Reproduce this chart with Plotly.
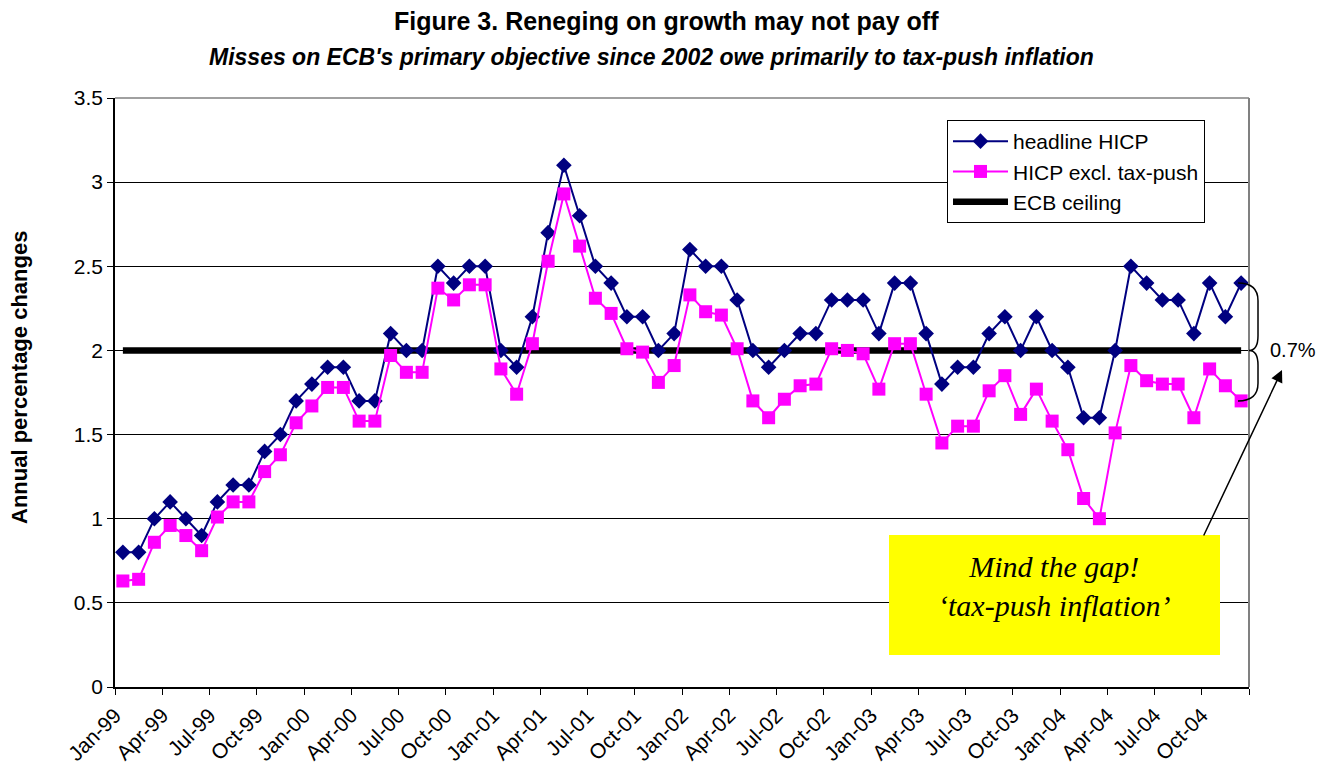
import plotly.graph_objects as go

# ---- data (annual % changes, monthly Jan-99 .. Dec-04) ----
headline_hicp = [
    0.8, 0.8, 1.0, 1.1, 1.0, 0.9, 1.1, 1.2, 1.2, 1.4, 1.5, 1.7,
    1.8, 1.9, 1.9, 1.7, 1.7, 2.1, 2.0, 2.0, 2.5, 2.4, 2.5, 2.5,
    2.0, 1.9, 2.2, 2.7, 3.1, 2.8, 2.5, 2.4, 2.2, 2.2, 2.0, 2.1,
    2.6, 2.5, 2.5, 2.3, 2.0, 1.9, 2.0, 2.1, 2.1, 2.3, 2.3, 2.3,
    2.1, 2.4, 2.4, 2.1, 1.8, 1.9, 1.9, 2.1, 2.2, 2.0, 2.2, 2.0,
    1.9, 1.6, 1.6, 2.0, 2.5, 2.4, 2.3, 2.3, 2.1, 2.4, 2.2, 2.4,
]
hicp_excl_tax_push = [
    0.63, 0.64, 0.86, 0.96, 0.90, 0.81, 1.01, 1.10, 1.10, 1.28, 1.38, 1.57,
    1.67, 1.78, 1.78, 1.58, 1.58, 1.97, 1.87, 1.87, 2.37, 2.30, 2.39, 2.39,
    1.89, 1.74, 2.04, 2.53, 2.93, 2.62, 2.31, 2.22, 2.01, 1.99, 1.81, 1.91,
    2.33, 2.23, 2.21, 2.01, 1.70, 1.60, 1.71, 1.79, 1.80, 2.01, 2.00, 1.98,
    1.77, 2.04, 2.04, 1.74, 1.45, 1.55, 1.55, 1.76, 1.85, 1.62, 1.77, 1.58,
    1.41, 1.12, 1.00, 1.51, 1.91, 1.82, 1.80, 1.80, 1.60, 1.89, 1.79, 1.70,
]
ecb_ceiling = [2.0] * 72
tick_labels = [
    "Jan-99", "Apr-99", "Jul-99", "Oct-99", "Jan-00", "Apr-00", "Jul-00", "Oct-00",
    "Jan-01", "Apr-01", "Jul-01", "Oct-01", "Jan-02", "Apr-02", "Jul-02", "Oct-02",
    "Jan-03", "Apr-03", "Jul-03", "Oct-03", "Jan-04", "Apr-04", "Jul-04", "Oct-04",
]
gap_label = "0.7%"

n = len(headline_hicp)
x = list(range(n))
y_max = 3.5

FONT = "Liberation Sans, Arial, sans-serif"

fig = go.Figure()
fig.add_trace(go.Scatter(
    x=x, y=ecb_ceiling, mode="lines", name="ECB ceiling",
    line=dict(color="black", width=6.5), legendrank=3, legendgroup="c",
))
fig.add_trace(go.Scatter(
    x=x, y=headline_hicp, mode="lines+markers", name="headline HICP",
    line=dict(color="#000080", width=2),
    marker=dict(symbol="diamond", size=12, color="#000080"),
    legendrank=1, legendgroup="a",
))
fig.add_trace(go.Scatter(
    x=x, y=hicp_excl_tax_push, mode="lines+markers", name="HICP excl. tax-push",
    line=dict(color="#FF00FF", width=2),
    marker=dict(symbol="square", size=13, color="#FF00FF"),
    legendrank=2, legendgroup="b",
))

tickvals = [i * 3 - 0.5 for i in range(len(tick_labels))] + [n - 0.5]
ticktext = tick_labels + [""]

fig.update_xaxes(
    range=[-0.5, n - 0.5], tickmode="array", tickvals=tickvals, ticktext=ticktext,
    tickangle=-45, ticks="outside", ticklen=6, tickcolor="black",
    showline=True, linecolor="black", linewidth=1.5, showgrid=False, zeroline=False,
    tickfont=dict(family=FONT, size=21, color="black"),
)
fig.update_yaxes(
    range=[0, y_max], dtick=0.5, tickmode="linear", tick0=0,
    ticks="outside", ticklen=6, tickcolor="black",
    showline=True, linecolor="black", linewidth=1.5,
    showgrid=True, gridcolor="black", gridwidth=1, zeroline=False,
    tickfont=dict(family=FONT, size=21, color="black"),
)

# helpers: screen pixel -> paper fraction of the plot area (x 115..1249, y 98..687)
def px_x(px):
    return (px - 115) / 1134.0

def px_y(py):
    return (687 - py) / 589.0

# brace between last headline value and last excl. value
yt = headline_hicp[-1] / y_max
ym = ecb_ceiling[-1] / y_max
yb = hicp_excl_tax_push[-1] / y_max
xa, xb, xt = px_x(1238), px_x(1258), px_x(1249)
brace = (
    f"M {xa},{yt} Q {xb},{yt} {xb},{yt - 0.03} L {xb},{ym + 0.025} "
    f"Q {xb},{ym} {xt},{ym} Q {xb},{ym} {xb},{ym - 0.025} "
    f"L {xb},{yb + 0.03} Q {xb},{yb} {xa},{yb}"
)

shapes = [
    dict(type="line", xref="paper", yref="paper", x0=1, x1=1, y0=0, y1=1,
         line=dict(color="#808080", width=2)),
    dict(type="line", xref="paper", yref="paper", x0=0, x1=1, y0=1, y1=1,
         line=dict(color="#808080", width=1.5)),
    dict(type="rect", xref="paper", yref="paper",
         x0=px_x(889), x1=px_x(1220), y0=px_y(655), y1=px_y(535),
         fillcolor="#FFFF00", line=dict(width=0), layer="above"),
    dict(type="path", xref="paper", yref="paper", path=brace,
         line=dict(color="black", width=1.5)),
]

def ann(text, xp, yp, size, family=FONT, **kw):
    d = dict(text=text, xref="paper", yref="paper", x=xp, y=yp,
             xanchor="center", yanchor="middle", showarrow=False,
             font=dict(family=family, size=size, color="black"))
    d.update(kw)
    return d

annotations = [
    ann("<b>Figure 3. Reneging on growth may not pay off</b>", px_x(666), px_y(21), 25),
    ann("<b><i>Misses on ECB's primary objective since 2002 owe primarily to tax-push inflation</i></b>",
        px_x(651), px_y(57), 23),
    ann("<b>Annual percentage changes</b>", px_x(19), px_y(378), 22, textangle=-90),
    ann("<i>Mind the gap!<br>‘tax-push inflation’</i>", px_x(1054), px_y(586), 30,
        family="Liberation Serif, Times New Roman, serif"),
    ann(gap_label, px_x(1293), ym, 20),
    dict(text="", xref="paper", yref="paper", x=px_x(1282), y=px_y(370),
         ax=1203 - 1282, ay=537 - 370, showarrow=True, arrowhead=2,
         arrowsize=1.6, arrowwidth=1.5, arrowcolor="black", standoff=0),
]

fig.update_layout(
    width=1330, height=770, autosize=False,
    # page body has an 8px margin, so the plot area lands at x 115..1249, y 98..687
    margin=dict(l=107, r=89, t=90, b=91),
    paper_bgcolor="white", plot_bgcolor="white",
    shapes=shapes, annotations=annotations,
    showlegend=True,
    legend=dict(
        x=px_x(947), y=px_y(120), xanchor="left", yanchor="top",
        bgcolor="white", bordercolor="black", borderwidth=1,
        font=dict(family=FONT, size=21, color="black"),
        traceorder="grouped", tracegroupgap=0, itemwidth=55,
    ),
    font=dict(family=FONT, color="black"),
)

fig.write_html("out.html")
